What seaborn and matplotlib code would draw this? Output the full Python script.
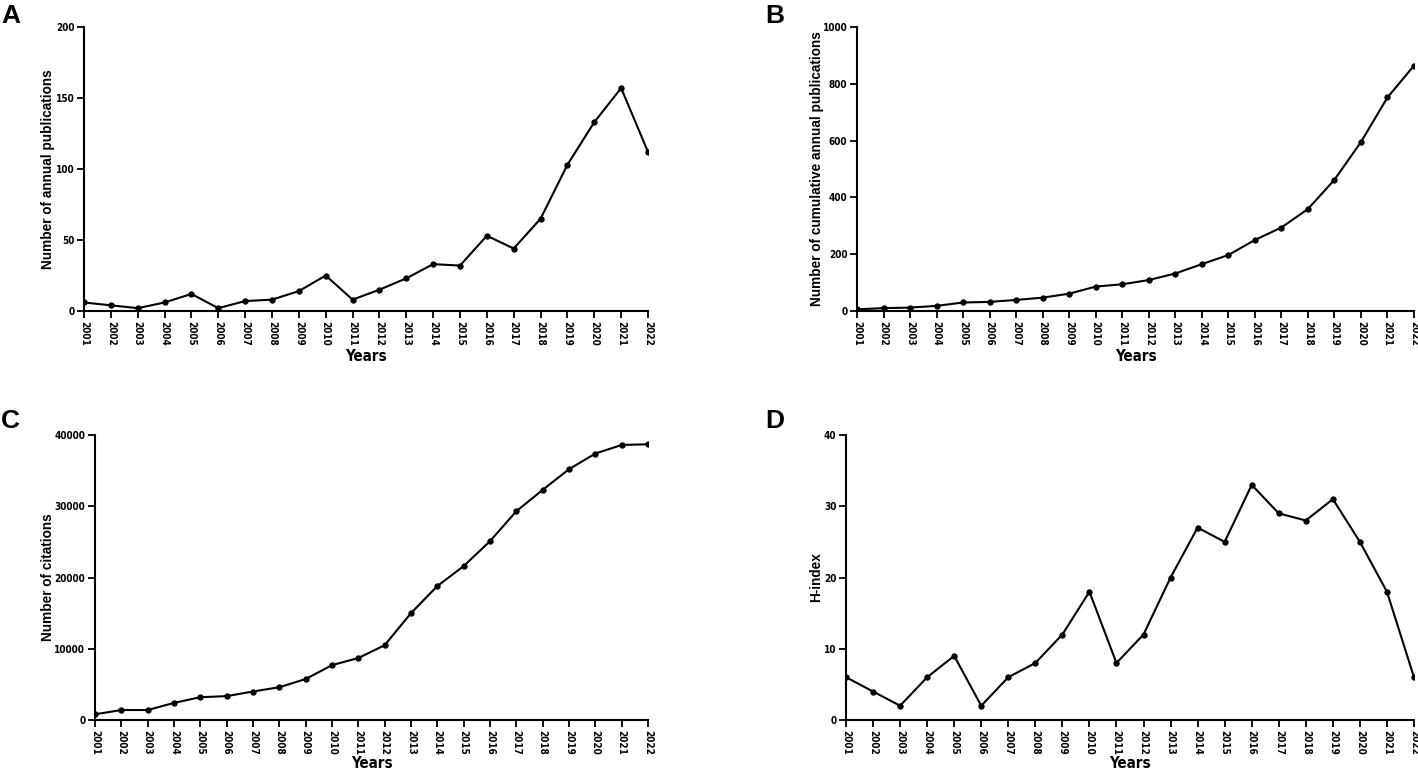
import numpy as np
import pandas as pd
import matplotlib
matplotlib.use("Agg")
import matplotlib.pyplot as plt
import matplotlib.transforms as mtransforms
import seaborn as sns

# values
years = list(range(2001, 2023))
annual_pubs = [6, 4, 2, 6, 12, 2, 7, 8, 14, 25, 8, 15, 23, 33, 32, 53, 44, 65, 103, 133, 157, 112]
cumulative_pubs = [6, 10, 12, 18, 30, 32, 39, 47, 61, 86, 94, 109, 132, 165, 197, 250, 294, 359, 462, 595, 752, 864]
citations = [800, 1400, 1400, 2400, 3200, 3350, 4000, 4600, 5750, 7700, 8700, 10500,
             15000, 18800, 21600, 25100, 29300, 32300, 35200, 37400, 38600, 38700]
h_index = [6, 4, 2, 6, 9, 2, 6, 8, 12, 18, 8, 12, 20, 27, 25, 33, 29, 28, 31, 25, 18, 6]

W, H = 1418, 770

# letter, data, y label, ymax, ystep, axes box in px (left, top, right, bottom), letter pos px,
# ylabel right edge px, xlabel offset px
panels = [
    ("A", annual_pubs, "Number of annual publications", 200, 50, (84, 27, 648, 311), (1, 16), 55, 38),
    ("B", cumulative_pubs, "Number of cumulative annual publications", 1000, 200, (857, 27, 1414, 311), (765, 16), 824, 38),
    ("C", citations, "Number of citations", 40000, 10000, (95, 435, 648, 720), (1, 421), 55, 36),
    ("D", h_index, "H-index", 40, 10, (846, 435, 1414, 720), (765, 421), 823, 36),
]

sns.set_theme(style="ticks")
plt.rcParams['font.family'] = ['Liberation Sans', 'DejaVu Sans']
tick_font = dict(fontweight="bold", family="DejaVu Sans", fontstretch="condensed", color="black")

fig = plt.figure(figsize=(W / 100, H / 100), dpi=100)

for letter, vals, ylab, ymax, ystep, box, lpos, ylab_x, xlab_off in panels:
    l, t, r, b = box
    ax = fig.add_axes([l / W, 1 - b / H, (r - l) / W, (b - t) / H])
    df = pd.DataFrame({"Years": years, "value": vals})
    sns.lineplot(data=df, x="Years", y="value", ax=ax, color="black", linewidth=1.5,
                 marker="o", markersize=3.8, markeredgecolor="black", markerfacecolor="black")
    ax.set_xlim(years[0], years[-1])
    ax.set_ylim(0, ymax)
    ax.set_xticks(years)
    ax.set_xticklabels([str(y) for y in years], rotation=-90, fontsize=7.1, **tick_font)
    yt = np.arange(0, ymax + 1, ystep)
    ax.set_yticks(yt)
    ax.set_yticklabels([str(v) for v in yt], fontsize=7.2, **tick_font)
    ax.set_xlabel("Years", fontsize=10.8, fontweight="bold", family="DejaVu Sans",
                  fontstretch="condensed", color="black")
    ax.set_ylabel(ylab, fontsize=9.8, fontweight="bold", color="black")
    ax.xaxis.set_label_coords(0.5, -xlab_off / (b - t))
    ax.yaxis.set_label_coords(ylab_x / W, 0.5,
                              transform=mtransforms.blended_transform_factory(fig.transFigure, ax.transAxes))
    sns.despine(ax=ax)
    for s in ["left", "bottom"]:
        ax.spines[s].set_linewidth(1.5)
        ax.spines[s].set_color("black")
    ax.tick_params(axis="both", direction="out", length=5, width=1.3, colors="black", pad=2)
    fig.text(lpos[0] / W, 1 - lpos[1] / H, letter, fontsize=19, fontweight="bold",
             ha="left", va="center", color="black")

plt.savefig("out.png", dpi=100)
plt.close()
